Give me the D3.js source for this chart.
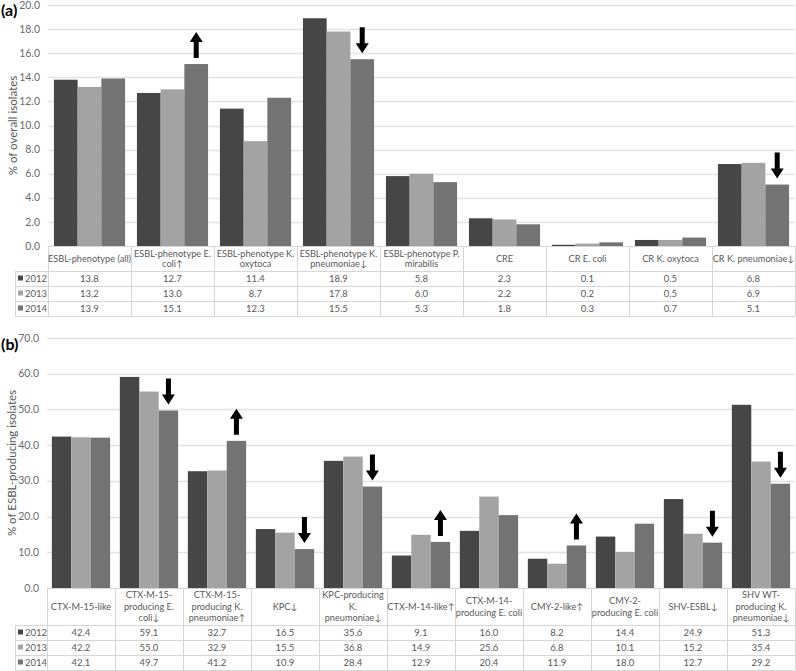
<!DOCTYPE html>
<html><head><meta charset="utf-8">
<script src="https://cdn.jsdelivr.net/npm/d3@7"></script>
<style>body{margin:0;background:#fff;} svg{display:block;font-family:Lato,"Open Sans",sans-serif;}</style>
</head><body>
<svg id="chart" width="796" height="671"></svg>
<script>
const years = ["2012", "2013", "2014"];
const seriesColors = ["#464646", "#a3a3a3", "#737373"];

const catsA = ["ESBL-phenotype (all)", "ESBL-phenotype E.\ncoli↑", "ESBL-phenotype K.\noxytoca", "ESBL-phenotype K.\npneumoniae↓", "ESBL-phenotype P.\nmirabilis", "CRE", "CR E. coli", "CR K. oxytoca", "CR K. pneumoniae↓"];
const a2012 = [13.8, 12.7, 11.4, 18.9, 5.8, 2.3, 0.1, 0.5, 6.8];
const a2013 = [13.2, 13.0, 8.7, 17.8, 6.0, 2.2, 0.2, 0.5, 6.9];
const a2014 = [13.9, 15.1, 12.3, 15.5, 5.3, 1.8, 0.3, 0.7, 5.1];
const trendA = [0, 1, 0, -1, 0, 0, 0, 0, -1];
const ticksA = [0, 2, 4, 6, 8, 10, 12, 14, 16, 18, 20];

const catsB = ["CTX-M-15-like", "CTX-M-15-\nproducing E.\ncoli↓", "CTX-M-15-\nproducing K.\npneumoniae↑", "KPC↓", "KPC-producing\nK.\npneumoniae↓", "CTX-M-14-like↑", "CTX-M-14-\nproducing E. coli", "CMY-2-like↑", "CMY-2-\nproducing E. coli", "SHV-ESBL↓", "SHV WT-\nproducing K.\npneumoniae↓"];
const b2012 = [42.4, 59.1, 32.7, 16.5, 35.6, 9.1, 16.0, 8.2, 14.4, 24.9, 51.3];
const b2013 = [42.2, 55.0, 32.9, 15.5, 36.8, 14.9, 25.6, 6.8, 10.1, 15.2, 35.4];
const b2014 = [42.1, 49.7, 41.2, 10.9, 28.4, 12.9, 20.4, 11.9, 18.0, 12.7, 29.2];
const trendB = [0, -1, 1, -1, -1, 1, 0, 1, 0, -1, -1];
const ticksB = [0, 10, 20, 30, 40, 50, 60, 70];

const svg = d3.select("#chart");

function panel(o) {
  const g = svg.append("g");
  const series = [o.s1, o.s2, o.s3];
  const x = d3.scaleBand().domain(d3.range(o.cats.length)).range([o.left, o.right]).padding(0);
  const inner = d3.scaleBand().domain(d3.range(3)).range([0, x.bandwidth()]).paddingOuter(0.25).paddingInner(0);
  const y = d3.scaleLinear().domain([0, o.ymax]).range([o.bottom, o.top]);

  g.append("g").selectAll("line").data(o.ticks.slice(1)).join("line")
    .attr("x1", o.left).attr("x2", o.right)
    .attr("y1", d => Math.round(y(d)) + 0.5).attr("y2", d => Math.round(y(d)) + 0.5)
    .attr("stroke", "#e3e3e3").attr("stroke-width", 1.3);
  g.append("g").selectAll("text").data(o.ticks).join("text")
    .attr("x", o.left - 8).attr("y", d => y(d) + 3.6)
    .attr("text-anchor", "end").attr("font-size", 10.5).attr("fill", "#6b6b6b")
    .text(d => d3.format(".1f")(d));
  series.forEach((s, k) => {
    g.append("g").selectAll("rect").data(s).join("rect")
      .attr("x", (d, i) => x(i) + inner(k))
      .attr("width", inner.bandwidth())
      .attr("y", d => y(d))
      .attr("height", d => o.bottom - y(d))
      .attr("fill", seriesColors[k]);
  });
  const arrowLen = 26, shaftW = 5, headW = 13, headH = 10;
  o.trend.forEach((t, i) => {
    if (!t) return;
    const cx = x(i) + inner(2) + inner.bandwidth() / 2;
    const yb = y(o.s3[i]) - 6, yt = yb - arrowLen;
    let p;
    if (t > 0) {
      p = [[cx - shaftW/2, yb], [cx - shaftW/2, yt + headH], [cx - headW/2, yt + headH], [cx, yt], [cx + headW/2, yt + headH], [cx + shaftW/2, yt + headH], [cx + shaftW/2, yb]];
    } else {
      p = [[cx - shaftW/2, yt], [cx - shaftW/2, yb - headH], [cx - headW/2, yb - headH], [cx, yb], [cx + headW/2, yb - headH], [cx + shaftW/2, yb - headH], [cx + shaftW/2, yt]];
    }
    g.append("path").attr("d", "M" + p.map(q => q.join(",")).join("L") + "Z").attr("fill", "#000");
  });
  g.append("line").attr("x1", o.left).attr("x2", o.right).attr("y1", o.bottom + 0.5).attr("y2", o.bottom + 0.5)
    .attr("stroke", "#d4d4d4").attr("stroke-width", 1);

  const tb = g.append("g");
  const hdrB = o.bottom + o.headerH;
  const rowY = d3.range(4).map(r => hdrB + r * o.rowH);
  const bc = "#d6d6d6";
  d3.range(o.cats.length + 1).forEach(i => {
    const xx = i < o.cats.length ? x(i) : o.right;
    tb.append("line").attr("x1", Math.round(xx) + 0.5).attr("x2", Math.round(xx) + 0.5)
      .attr("y1", o.bottom).attr("y2", rowY[3]).attr("stroke", bc);
  });
  rowY.forEach(yy => {
    tb.append("line").attr("x1", o.legX).attr("x2", o.right)
      .attr("y1", Math.round(yy) + 0.5).attr("y2", Math.round(yy) + 0.5).attr("stroke", bc);
  });
  tb.append("line").attr("x1", o.legX + 0.5).attr("x2", o.legX + 0.5).attr("y1", rowY[0]).attr("y2", rowY[3]).attr("stroke", bc);
  o.cats.forEach((c, i) => {
    const lines = c.split("\n");
    const cy = o.bottom + o.headerH / 2;
    lines.forEach((ln, j) => {
      tb.append("text").attr("x", x(i) + x.bandwidth() / 2)
        .attr("y", cy + (j - (lines.length - 1) / 2) * o.lineH + 3.3)
        .attr("text-anchor", "middle").attr("font-size", 9.2).attr("fill", "#595959").text(ln);
    });
  });
  series.forEach((s, k) => {
    const cy = rowY[k] + o.rowH / 2 + 3.3;
    tb.append("rect").attr("x", o.legX + 3).attr("y", cy - 6.3).attr("width", 5).attr("height", 5).attr("fill", seriesColors[k]);
    tb.append("text").attr("x", o.legX + 10).attr("y", cy).attr("font-size", 9.5).attr("fill", "#595959").text(years[k]);
    s.forEach((v, i) => {
      tb.append("text").attr("x", x(i) + x.bandwidth() / 2).attr("y", cy)
        .attr("text-anchor", "middle").attr("font-size", 9.5).attr("fill", "#595959").text(d3.format(".1f")(v));
    });
  });
  g.append("text").attr("transform", `translate(${o.titleX},${(o.top + o.bottom) / 2}) rotate(-90)`)
    .attr("text-anchor", "middle").attr("font-size", 11.5).attr("fill", "#595959").text(o.ytitle);
  g.append("text").attr("x", 1).attr("y", o.labelY).attr("font-size", 16).attr("font-weight", "bold")
    .attr("fill", "#000").text(o.label);
}

panel({cats: catsA, s1: a2012, s2: a2013, s3: a2014, trend: trendA, ticks: ticksA, ymax: 20,
  left: 48, right: 795, top: 5, bottom: 246, headerH: 25, rowH: 15, lineH: 10.5, legX: 15,
  ytitle: "% of overall isolates", titleX: 17, label: "(a)", labelY: 16});
panel({cats: catsB, s1: b2012, s2: b2013, s3: b2014, trend: trendB, ticks: ticksB, ymax: 70,
  left: 47, right: 795, top: 338, bottom: 588, headerH: 37, rowH: 15, lineH: 11.5, legX: 15,
  ytitle: "% of ESBL-producing isolates", titleX: 16, label: "(b)", labelY: 350});
</script>
</body></html>
